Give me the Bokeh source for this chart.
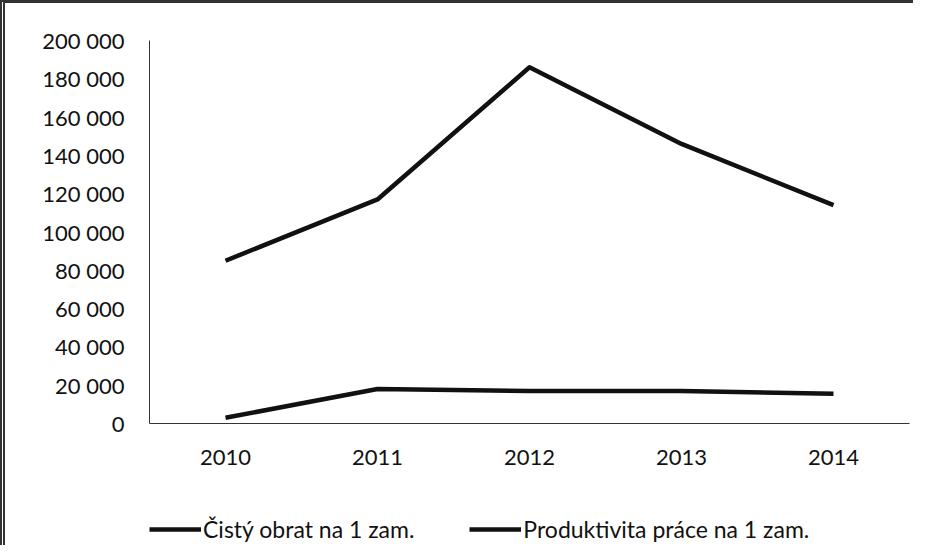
from bokeh.plotting import figure
from bokeh.layouts import column
from bokeh.models import Range1d, FactorRange, FixedTicker, Legend, LegendItem, ColumnDataSource
from bokeh.embed import file_html
from bokeh.resources import INLINE

years = ["2010", "2011", "2012", "2013", "2014"]
cisty_obrat = [85000, 117000, 186000, 146000, 114000]
produktivita = [3000, 18000, 17000, 17000, 15500]
y_ticks = [0, 20000, 40000, 60000, 80000, 100000, 120000, 140000, 160000, 180000, 200000]
y_tick_labels = ["0", "20 000", "40 000", "60 000", "80 000", "100 000",
                 "120 000", "140 000", "160 000", "180 000", "200 000"]
series_names = ["Čistý obrat na 1 zam.", "Produktivita práce na 1 zam."]

FONT = "Lato"
INK = "#111111"
LW = 4.5

p = figure(
    width=908, height=476,
    x_range=FactorRange(factors=years, range_padding=0),
    y_range=Range1d(0, 200000),
    output_backend="svg", toolbar_location=None,
    min_border_left=144, min_border_right=4, min_border_top=37, min_border_bottom=56,
)
p.outline_line_color = None
p.xgrid.grid_line_color = None
p.ygrid.grid_line_color = None
p.background_fill_color = "white"
p.border_fill_color = "white"

src = ColumnDataSource(dict(x=years, a=cisty_obrat, b=produktivita))
r1 = p.line("x", "a", source=src, line_color=INK, line_width=LW, line_join="round")
r2 = p.line("x", "b", source=src, line_color=INK, line_width=LW, line_join="round")

# Y axis
p.yaxis.ticker = FixedTicker(ticks=y_ticks)
p.yaxis.major_label_overrides = {t: l for t, l in zip(y_ticks, y_tick_labels)}
p.yaxis.major_tick_line_color = None
p.yaxis.minor_tick_line_color = None
p.yaxis.major_tick_out = 0
p.yaxis.major_tick_in = 0
p.yaxis.major_label_standoff = 25
p.yaxis.axis_line_color = "#333"
p.yaxis.axis_line_width = 1
p.yaxis.major_label_text_font = FONT
p.yaxis.major_label_text_font_size = "22px"
p.yaxis.major_label_text_color = INK

# X axis
p.xaxis.major_tick_line_color = None
p.xaxis.minor_tick_line_color = None
p.xaxis.major_tick_out = 0
p.xaxis.major_tick_in = 0
p.xaxis.major_label_standoff = 26
p.xaxis.axis_line_color = "#333"
p.xaxis.axis_line_width = 1
p.xaxis.major_label_text_font = FONT
p.xaxis.major_label_text_font_size = "22px"
p.xaxis.major_label_text_color = INK

# Legend strip below the chart: same series, drawn out of its visible range,
# only used to supply legend glyphs.
lf = figure(
    width=908, height=66,
    x_range=FactorRange(factors=years, range_padding=0), y_range=Range1d(-2, -1),
    x_axis_location=None, y_axis_location=None,
    output_backend="svg", toolbar_location=None,
    min_border_left=0, min_border_right=0, min_border_top=0, min_border_bottom=0,
)
lf.outline_line_color = None
lf.xgrid.grid_line_color = None
lf.ygrid.grid_line_color = None
lf.border_fill_color = "white"

k1 = lf.line("x", "a", source=src, line_color=INK, line_width=LW)
k2 = lf.line("x", "b", source=src, line_color=INK, line_width=LW)

legend = Legend(
    items=[LegendItem(label=series_names[0], renderers=[k1]),
           LegendItem(label=series_names[1], renderers=[k2])],
    orientation="horizontal",
    location=(0, 2),
    glyph_width=52, glyph_height=24,
    label_standoff=2, spacing=55,
    padding=0, margin=0,
    border_line_alpha=0, background_fill_alpha=0,
    label_text_font=FONT, label_text_font_size="23px", label_text_color=INK,
)
lf.add_layout(legend, "center")

layout = column(p, lf, spacing=0)
layout.styles = {"border-left": "5px double #333", "border-top": "3px solid #333"}

open("out.html", "w").write(file_html(layout, INLINE))
